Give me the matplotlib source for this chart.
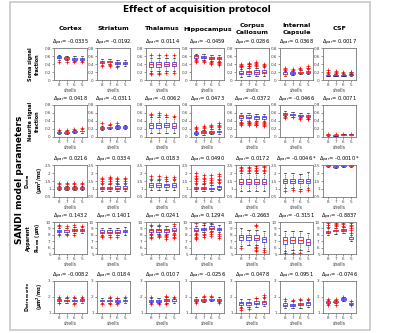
import numpy as np
import matplotlib
matplotlib.use("Agg")
import matplotlib.pyplot as plt
from matplotlib.patches import Rectangle

plt.rcParams.update({"font.family": "DejaVu Sans", "axes.linewidth": 0.6,
                     "xtick.major.size": 1.5, "ytick.major.size": 1.5,
                     "xtick.major.width": 0.4, "ytick.major.width": 0.4,
                     "xtick.major.pad": 0.8, "ytick.major.pad": 0.8})

regions = ["Cortex", "Striatum", "Thalamus", "Hippocampus",
           "Corpus\nCallosum", "Internal\nCapsule", "CSF"]
shells = ["8", "7", "6", "5"]

row_labels = ["Soma signal\nfraction", "Neurite signal\nfraction",
              "D$_\\mathbf{extra}$\n(µm$^\\mathbf{2}$/ms)",
              "Apparent\nR$_\\mathbf{soma}$ (µm)",
              "D$_\\mathbf{intra\\ neurite}$\n(µm$^\\mathbf{2}$/ms)"]

delta_par = [
    ["-0.0335", "-0.0192", "0.0114", "-0.0459", "0.0286", "0.0368", "0.0017"],
    ["0.0418", "-0.0311", "-0.0062", "0.0473", "-0.0372", "-0.0466", "0.0071"],
    ["0.0216", "0.0334", "0.0183", "0.0490", "0.0172", "-0.0046 *", "-0.0010 *"],
    ["0.1432", "0.1401", "0.0241", "0.1294", "-0.2663", "-0.3151", "-0.8837"],
    ["-0.0082", "0.0184", "0.0107", "-0.0256", "0.0478", "0.0951", "-0.0746"],
]

ylims = [(0, 0.8), (0, 0.8), (0.5, 2.5), (5, 10), (1, 3)]
yticks = [[0, 0.2, 0.4, 0.6, 0.8], [0, 0.2, 0.4, 0.6, 0.8],
          [0.5, 1, 1.5, 2, 2.5], [5, 6, 7, 8, 9, 10], [1, 2, 3]]
yticklabels = [["0", "0.2", "0.4", "0.6", "0.8"], ["0", "0.2", "0.4", "0.6", "0.8"],
               ["0.5", "1", "1.5", "2", "2.5"], ["5", "6", "7", "8", "9", "10"],
               ["1", "2", "3"]]

# ---- soma signal fraction
soma_med = [[0.57, 0.55, 0.53, 0.53], [0.45, 0.46, 0.42, 0.43], [0.39, 0.39, 0.39, 0.40],
            [0.59, 0.57, 0.55, 0.55], [0.18, 0.19, 0.21, 0.21], [0.16, 0.17, 0.19, 0.20],
            [0.12, 0.12, 0.12, 0.13]]
soma_q1 = [[0.54, 0.52, 0.51, 0.51], [0.42, 0.45, 0.39, 0.40], [0.33, 0.33, 0.34, 0.34],
           [0.56, 0.54, 0.52, 0.52], [0.14, 0.15, 0.16, 0.17], [0.14, 0.15, 0.17, 0.18],
           [0.11, 0.11, 0.11, 0.12]]
soma_q3 = [[0.59, 0.57, 0.55, 0.55], [0.48, 0.48, 0.45, 0.46], [0.45, 0.45, 0.45, 0.46],
           [0.62, 0.59, 0.58, 0.57], [0.22, 0.23, 0.25, 0.25], [0.19, 0.20, 0.21, 0.22],
           [0.13, 0.13, 0.13, 0.14]]
soma_lo = [[0.50, 0.49, 0.48, 0.48], [0.38, 0.40, 0.35, 0.36], [0.22, 0.22, 0.22, 0.23],
           [0.52, 0.50, 0.48, 0.48], [0.08, 0.09, 0.09, 0.10], [0.11, 0.12, 0.14, 0.15],
           [0.09, 0.09, 0.10, 0.10]]
soma_hi = [[0.63, 0.61, 0.59, 0.59], [0.52, 0.52, 0.50, 0.50], [0.55, 0.55, 0.55, 0.56],
           [0.66, 0.64, 0.63, 0.62], [0.28, 0.29, 0.31, 0.32], [0.23, 0.23, 0.25, 0.27],
           [0.15, 0.15, 0.15, 0.16]]
soma_out = [[[0.46], [0.45], [0.45], [0.46]],
            [[0.34], [0.36, 0.38], [0.32], []],
            [[0.15, 0.18, 0.62], [0.14, 0.17, 0.62], [0.17, 0.63], [0.18, 0.62]],
            [[0.46, 0.48, 0.50], [0.45, 0.47], [0.41, 0.43, 0.45], [0.37, 0.40, 0.42, 0.44, 0.46]],
            [[0.32, 0.34, 0.36, 0.38, 0.40], [0.34, 0.36, 0.39, 0.41, 0.43],
             [0.35, 0.37, 0.40, 0.42, 0.45], [0.36, 0.38, 0.41]],
            [[0.25, 0.28, 0.30], [0.26, 0.28], [0.28, 0.31], [0.29, 0.31, 0.34]],
            [[0.17, 0.20, 0.24], [0.17, 0.20, 0.22], [0.17, 0.19], [0.17, 0.19, 0.21]]]

# ---- neurite signal fraction
neur_med = [[0.11, 0.12, 0.14, 0.15], [0.22, 0.24, 0.25, 0.25], [0.30, 0.30, 0.30, 0.28],
            [0.10, 0.12, 0.13, 0.14], [0.52, 0.51, 0.49, 0.49], [0.57, 0.56, 0.54, 0.53],
            [0.05, 0.04, 0.06, 0.06]]
neur_q1 = [[0.10, 0.11, 0.13, 0.14], [0.20, 0.22, 0.23, 0.23], [0.22, 0.23, 0.24, 0.22],
           [0.08, 0.10, 0.11, 0.12], [0.48, 0.47, 0.46, 0.46], [0.55, 0.54, 0.52, 0.51],
           [0.04, 0.035, 0.05, 0.05]]
neur_q3 = [[0.12, 0.13, 0.15, 0.16], [0.24, 0.26, 0.27, 0.27], [0.36, 0.36, 0.35, 0.35],
           [0.12, 0.14, 0.15, 0.16], [0.55, 0.54, 0.53, 0.53], [0.60, 0.58, 0.56, 0.56],
           [0.055, 0.05, 0.065, 0.065]]
neur_lo = [[0.07, 0.08, 0.10, 0.11], [0.17, 0.19, 0.20, 0.20], [0.10, 0.10, 0.10, 0.10],
           [0.05, 0.06, 0.07, 0.08], [0.42, 0.41, 0.40, 0.40], [0.52, 0.51, 0.49, 0.48],
           [0.03, 0.03, 0.04, 0.04]]
neur_hi = [[0.15, 0.16, 0.18, 0.19], [0.28, 0.30, 0.31, 0.31], [0.50, 0.50, 0.49, 0.49],
           [0.16, 0.18, 0.19, 0.20], [0.60, 0.59, 0.58, 0.58], [0.64, 0.62, 0.60, 0.60],
           [0.065, 0.06, 0.075, 0.075]]
neur_out = [[[0.18], [0.18], [0.20], [0.22]],
            [[0.34], [0.33], [0.35], []],
            [[0.54, 0.58], [0.55, 0.60], [0.54], [0.53]],
            [[0.20, 0.22, 0.25], [0.22, 0.25, 0.28], [0.24, 0.27, 0.30], [0.25, 0.28, 0.31, 0.34]],
            [[0.30, 0.32, 0.34, 0.36, 0.38], [0.30, 0.32, 0.34, 0.36, 0.38],
             [0.29, 0.31, 0.33, 0.35, 0.37], [0.28, 0.30, 0.33, 0.35, 0.37]],
            [[0.48, 0.50], [0.50], [0.45, 0.47], [0.44, 0.46]],
            [[0.07], [0.07], [0.08], [0.08]]]

# ---- D extra
dex_med = [[1.05, 1.05, 1.05, 1.05], [1.05, 1.05, 1.07, 1.07], [1.25, 1.25, 1.22, 1.25],
           [1.05, 1.05, 1.00, 1.10], [1.45, 1.45, 1.45, 1.45], [1.50, 1.50, 1.50, 1.50],
           [2.45, 2.40, 2.50, 2.45]]
dex_q1 = [[1.00, 1.00, 1.00, 1.00], [0.98, 0.98, 1.00, 1.00], [1.15, 1.15, 1.13, 1.15],
          [1.00, 1.00, 0.97, 1.02], [1.30, 1.30, 1.30, 1.30], [1.35, 1.35, 1.35, 1.35],
          [2.42, 2.37, 2.46, 2.42]]
dex_q3 = [[1.10, 1.10, 1.10, 1.10], [1.15, 1.15, 1.16, 1.16], [1.35, 1.35, 1.32, 1.35],
          [1.12, 1.12, 1.08, 1.20], [1.60, 1.60, 1.60, 1.60], [1.65, 1.65, 1.65, 1.65],
          [2.48, 2.43, 2.54, 2.48]]
dex_lo = [[0.92, 0.92, 0.92, 0.92], [0.85, 0.85, 0.86, 0.86], [0.95, 0.95, 0.95, 0.95],
          [0.90, 0.90, 0.88, 0.92], [0.90, 0.90, 0.90, 0.90], [1.05, 1.05, 1.00, 1.05],
          [2.36, 2.32, 2.40, 2.37]]
dex_hi = [[1.20, 1.20, 1.20, 1.20], [1.30, 1.30, 1.32, 1.32], [1.55, 1.55, 1.52, 1.55],
          [1.30, 1.30, 1.25, 1.35], [2.00, 2.00, 2.00, 2.00], [2.00, 2.00, 1.95, 2.05],
          [2.52, 2.48, 2.58, 2.52]]
dex_out = [[[1.30, 1.35], [1.30, 1.40], [1.30, 1.35], [1.30, 1.38]],
           [[1.40, 1.50, 1.60, 1.70], [1.40, 1.50, 1.60, 1.70, 1.75], [1.40, 1.50, 1.60, 1.70], [1.40, 1.50, 1.60, 1.70]],
           [[1.65, 1.80], [1.65, 1.80], [1.65, 1.75], [1.65, 1.75]],
           [[1.40, 1.50, 1.60, 1.70, 1.80, 2.00], [1.40, 1.50, 1.60, 1.70, 1.90],
            [1.35, 1.45, 1.55, 1.70, 1.85], [1.45, 1.55, 1.65, 1.80, 1.95]],
           [[2.10, 2.20, 2.30, 2.40], [2.10, 2.20, 2.30, 2.40], [2.10, 2.20, 2.30, 2.45], [2.10, 2.20, 2.35, 2.45]],
           [[0.90], [0.95], [0.85], [0.95]],
           [[], [], [], []]]

# ---- apparent soma radius
rs_med = [[8.6, 8.7, 8.8, 8.7], [8.5, 8.5, 8.5, 8.6], [8.7, 8.7, 8.7, 8.8],
          [8.8, 8.9, 9.1, 8.9], [7.6, 7.6, 7.5, 7.3], [7.2, 7.2, 7.2, 6.9],
          [8.4, 8.7, 8.7, 7.4]]
rs_q1 = [[8.5, 8.5, 8.6, 8.6], [8.3, 8.3, 8.3, 8.4], [8.5, 8.5, 8.5, 8.6],
         [8.6, 8.7, 8.9, 8.7], [7.2, 7.2, 7.2, 6.9], [6.6, 6.7, 6.7, 6.4],
         [8.3, 8.6, 8.6, 7.3]]
rs_q3 = [[8.8, 8.8, 8.9, 8.9], [8.7, 8.7, 8.7, 8.8], [8.9, 8.9, 8.9, 9.0],
         [9.0, 9.1, 9.3, 9.1], [8.0, 7.9, 7.9, 7.7], [7.6, 7.6, 7.7, 7.3],
         [8.6, 8.8, 8.9, 7.6]]
rs_lo = [[8.2, 8.2, 8.3, 8.3], [7.9, 7.9, 7.9, 8.0], [8.2, 8.2, 8.2, 8.3],
         [8.3, 8.4, 8.6, 8.4], [6.3, 6.4, 6.4, 6.0], [5.5, 5.6, 5.6, 5.4],
         [7.9, 8.2, 8.3, 7.0]]
rs_hi = [[9.1, 9.1, 9.2, 9.2], [9.1, 9.1, 9.1, 9.2], [9.3, 9.3, 9.3, 9.4],
         [9.4, 9.5, 9.7, 9.5], [9.0, 8.8, 8.8, 8.6], [8.6, 8.6, 8.6, 8.3],
         [9.0, 9.1, 9.2, 7.9]]
rs_out = [[[9.3, 9.5, 8.0], [9.3, 7.9], [9.5, 8.0], [9.4]],
          [[7.6, 7.8], [7.6], [7.7], []],
          [[7.5, 7.7, 7.9, 8.1, 9.6], [7.6, 7.8, 8.0, 9.6], [7.4, 7.6, 7.8, 8.0], [7.5, 7.7, 7.9, 8.1, 9.7]],
          [[7.3, 7.5, 7.7, 7.9, 8.1, 9.8], [7.6, 7.9, 8.2, 9.9], [7.8, 8.1, 8.4, 9.9], [7.5, 7.8, 8.1]],
          [[5.9], [], [5.5, 5.7, 5.9, 6.1, 9.3, 9.6], [5.3, 5.6]],
          [[5.1], [5.0, 5.1], [5.2], []],
          [[9.2, 9.5, 9.8, 10.0], [9.3, 9.5, 9.7, 9.9], [9.4, 9.7, 9.9], [8.3, 8.7, 9.0, 9.3, 9.6, 9.9]]]

# ---- D intra neurite
din_med = [[1.80, 1.80, 1.78, 1.80], [1.78, 1.78, 1.75, 1.78], [1.77, 1.75, 1.80, 1.78],
           [1.83, 1.82, 1.85, 1.82], [1.60, 1.60, 1.65, 1.68], [1.50, 1.50, 1.55, 1.60],
           [1.70, 1.70, 1.88, 1.60]]
din_q1 = [[1.75, 1.75, 1.72, 1.74], [1.72, 1.72, 1.70, 1.72], [1.70, 1.69, 1.73, 1.72],
          [1.78, 1.77, 1.80, 1.77], [1.50, 1.50, 1.55, 1.58], [1.43, 1.43, 1.47, 1.52],
          [1.65, 1.66, 1.84, 1.55]]
din_q3 = [[1.85, 1.84, 1.83, 1.85], [1.83, 1.83, 1.81, 1.84], [1.84, 1.82, 1.88, 1.85],
          [1.88, 1.87, 1.90, 1.87], [1.70, 1.70, 1.75, 1.76], [1.60, 1.58, 1.63, 1.67],
          [1.75, 1.74, 1.92, 1.65]]
din_lo = [[1.65, 1.65, 1.62, 1.65], [1.62, 1.62, 1.60, 1.62], [1.60, 1.60, 1.62, 1.62],
          [1.70, 1.70, 1.72, 1.70], [1.35, 1.35, 1.40, 1.45], [1.30, 1.30, 1.33, 1.40],
          [1.58, 1.60, 1.78, 1.48]]
din_hi = [[1.95, 1.95, 1.93, 1.95], [1.93, 1.93, 1.91, 1.94], [1.95, 1.93, 2.00, 1.95],
          [1.98, 1.97, 2.02, 1.97], [1.88, 1.85, 1.92, 1.95], [1.78, 1.75, 1.80, 1.82],
          [1.83, 1.82, 1.98, 1.73]]
din_out = [[[2.00, 1.60], [1.98], [2.00, 1.58], [1.98]],
           [[1.57], [1.58, 1.98], [1.55, 1.95], [1.98]],
           [[1.55, 2.00], [1.56], [2.05, 1.58], [1.98]],
           [[1.65], [2.05], [2.08], [1.65]],
           [[1.20, 1.30], [1.25], [1.95], [2.00, 2.10]],
           [[1.85], [1.80], [1.85], [1.90]],
           [[1.90, 1.50], [1.90, 1.52], [2.02], [1.78, 1.48]]]

row_data = [(soma_med, soma_q1, soma_q3, soma_lo, soma_hi, soma_out),
            (neur_med, neur_q1, neur_q3, neur_lo, neur_hi, neur_out),
            (dex_med, dex_q1, dex_q3, dex_lo, dex_hi, dex_out),
            (rs_med, rs_q1, rs_q3, rs_lo, rs_hi, rs_out),
            (din_med, din_q1, din_q3, din_lo, din_hi, din_out)]

W, H = 400, 333
fig = plt.figure(figsize=(W / 100, H / 100), dpi=100)

# outer frame
fig.patches.append(Rectangle((10 / W, 3 / H), 360 / W, 328 / H, transform=fig.transFigure,
                             fill=False, edgecolor="#c8c8c8", lw=1.2))

col_left = [54, 97, 146, 191, 236, 280, 323]
row_top = [48, 105, 165, 222, 281]
aw, ah = 33, 32

fig.text(197 / W, 1 - 10 / H, "Effect of acquisition protocol", ha="center", va="center",
         fontsize=6.5, fontweight="bold")
fig.text(20 / W, 1 - 180 / H, "SANDI model parameters", ha="center", va="center",
         rotation=90, fontsize=6.5, fontweight="bold")

for j, name in enumerate(regions):
    fig.text((col_left[j] + aw / 2) / W, 1 - 29 / H, name, ha="center", va="center",
             fontsize=4.6, fontweight="bold", linespacing=1.5)

box_kw = dict(boxprops=dict(color="#6060ff", lw=0.7),
              medianprops=dict(color="#ff3030", lw=0.8),
              whiskerprops=dict(color="black", lw=0.45, linestyle=(0, (1.5, 1.5))),
              capprops=dict(color="black", lw=0.45),
              flierprops=dict(marker="+", markeredgecolor="red", markersize=2.2, markeredgewidth=0.5))

for i in range(5):
    med, q1, q3, lo, hi, out = row_data[i]
    fig.text(34 / W, 1 - (row_top[i] + ah / 2) / H, row_labels[i], ha="center", va="center",
             rotation=90, fontsize=3.5, fontweight="bold", linespacing=1.5)
    for j in range(7):
        ax = fig.add_axes([col_left[j] / W, 1 - (row_top[i] + ah) / H, aw / W, ah / H])
        stats = []
        for k in range(4):
            stats.append(dict(med=med[j][k], q1=q1[j][k], q3=q3[j][k],
                              whislo=lo[j][k], whishi=hi[j][k], fliers=out[j][k]))
        ax.bxp(stats, positions=[1, 2, 3, 4], widths=0.55, showfliers=True, **box_kw)
        ax.set_xlim(0.4, 4.6)
        ax.set_ylim(*ylims[i])
        ax.set_yticks(yticks[i])
        ax.set_yticklabels(yticklabels[i])
        ax.set_xticks([1, 2, 3, 4])
        ax.set_xticklabels(shells)
        ax.tick_params(labelsize=3.0, colors="#444444")
        for s in ax.spines.values():
            s.set_color("#777777")
        ax.set_xlabel("shells", fontsize=3.3, color="#444444", labelpad=0.3)
        ax.set_title("$\\Delta_{par}$= " + delta_par[i][j], fontsize=3.7, pad=2.5)

fig.savefig("out.png", dpi=100)
